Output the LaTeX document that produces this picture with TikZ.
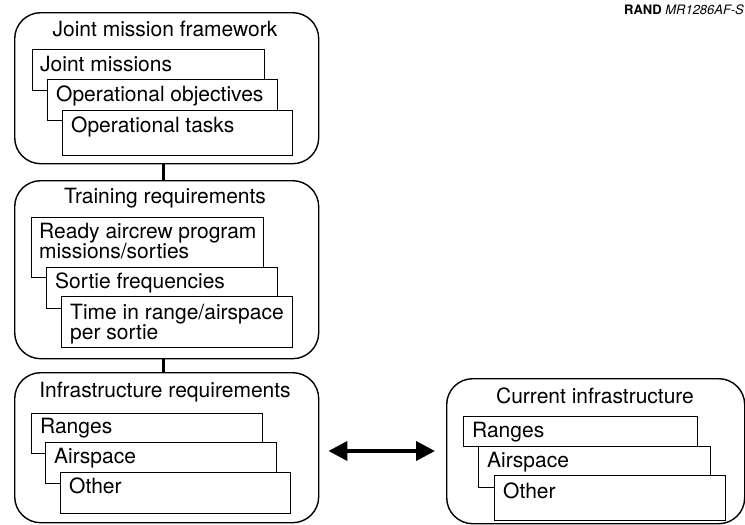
\documentclass[tikz,border=0pt]{standalone}
\usepackage{fontspec}
\setmainfont{TeX Gyre Heros}
\usetikzlibrary{arrows.meta,calc}
\begin{document}
\begin{tikzpicture}[x=1pt,y=-1pt,
  outer/.style={draw, line width=1.4pt, rounded corners=26pt, anchor=north west, inner sep=0pt, fill=white},
  inbox/.style={draw, line width=1pt, fill=white, anchor=north west, inner sep=0pt},
  ttl/.style={font=\fontsize{21}{20}\selectfont, anchor=base, inner sep=0pt},
  lbl/.style={font=\fontsize{21}{20}\selectfont, anchor=base west, align=left, inner sep=0pt},
  conn/.style={line width=3.5pt},
  arr/.style={line width=4pt, {Triangle[length=19pt,width=19pt]}-{Triangle[length=19pt,width=19pt]}}]
\useasboundingbox (0,0) rectangle (745,525);

% RAND label
\node[anchor=base east, inner sep=0pt, font=\fontsize{13}{14}\selectfont] (rand) at (744,14) {\textbf{RAND} \textit{MR1286AF-S}};

% Box 1
\node[outer, minimum width=304pt, minimum height=151pt] (jmf) at (14,12) {};
\node[ttl] (jmft) at (165,36) {Joint mission framework};
\node[inbox, minimum width=232pt, minimum height=41pt] (jm) at (32,49) {};
\node[lbl] at ($(jm.north west)+(8,22)$) {Joint missions};
\node[inbox, minimum width=230pt, minimum height=41pt] (oo) at (47,79) {};
\node[lbl] at ($(oo.north west)+(9,22)$) {Operational objectives};
\node[inbox, minimum width=230pt, minimum height=45pt] (ot) at (62,110) {};
\node[lbl] at ($(ot.north west)+(9,22)$) {Operational tasks};

% Box 2
\node[outer, minimum width=304pt, minimum height=178pt] (tr) at (14,180) {};
\node[ttl] (trt) at (165,203) {Training requirements};
\node[inbox, minimum width=232pt, minimum height=60pt] (rap) at (31,217) {};
\node[lbl] at ($(rap.north west)+(8,41)$) {Ready aircrew program\\missions/sorties};
\node[inbox, minimum width=231pt, minimum height=41pt] (sf) at (46,267) {};
\node[lbl] at ($(sf.north west)+(9,21)$) {Sortie frequencies};
\node[inbox, minimum width=231pt, minimum height=51pt] (tir) at (61,296) {};
\node[lbl] at ($(tir.north west)+(9,43)$) {Time in range/airspace\\per sortie};

% Box 3
\node[outer, minimum width=304pt, minimum height=150pt] (ir) at (14,372) {};
\node[ttl] (irt) at (165,397) {Infrastructure requirements};
\node[inbox, minimum width=231pt, minimum height=40pt] (r1) at (31,413) {};
\node[lbl] at ($(r1.north west)+(9,20)$) {Ranges};
\node[inbox, minimum width=231pt, minimum height=41pt] (a1) at (45,442) {};
\node[lbl] at ($(a1.north west)+(9,21)$) {Airspace};
\node[inbox, minimum width=230pt, minimum height=41pt] (o1) at (60,472) {};
\node[lbl] at ($(o1.north west)+(9,21)$) {Other};

% Box 4
\node[outer, minimum width=298pt, minimum height=145pt] (ci) at (446,378) {};
\node[ttl] (cit) at (595,403) {Current infrastructure};
\node[inbox, minimum width=234pt, minimum height=30pt] (r2) at (463,416) {};
\node[lbl] at ($(r2.north west)+(9,21)$) {Ranges};
\node[inbox, minimum width=232pt, minimum height=41pt] (a2) at (478,446) {};
\node[lbl] at ($(a2.north west)+(9,21)$) {Airspace};
\node[inbox, minimum width=231pt, minimum height=45pt] (o2) at (494,475) {};
\node[lbl] at ($(o2.north west)+(9,23)$) {Other};

% connectors
\draw[conn] ($(jmf.south)+(-3,0)$) -- ($(tr.north)+(-3,0)$);
\draw[conn] ($(tr.south)+(-3,0)$) -- ($(ir.north)+(-3,0)$);
\draw[arr] ($(ir.east |- 0,451)+(9,0)$) -- ($(ci.west |- 0,451)+(-11,0)$);
\end{tikzpicture}
\end{document}
